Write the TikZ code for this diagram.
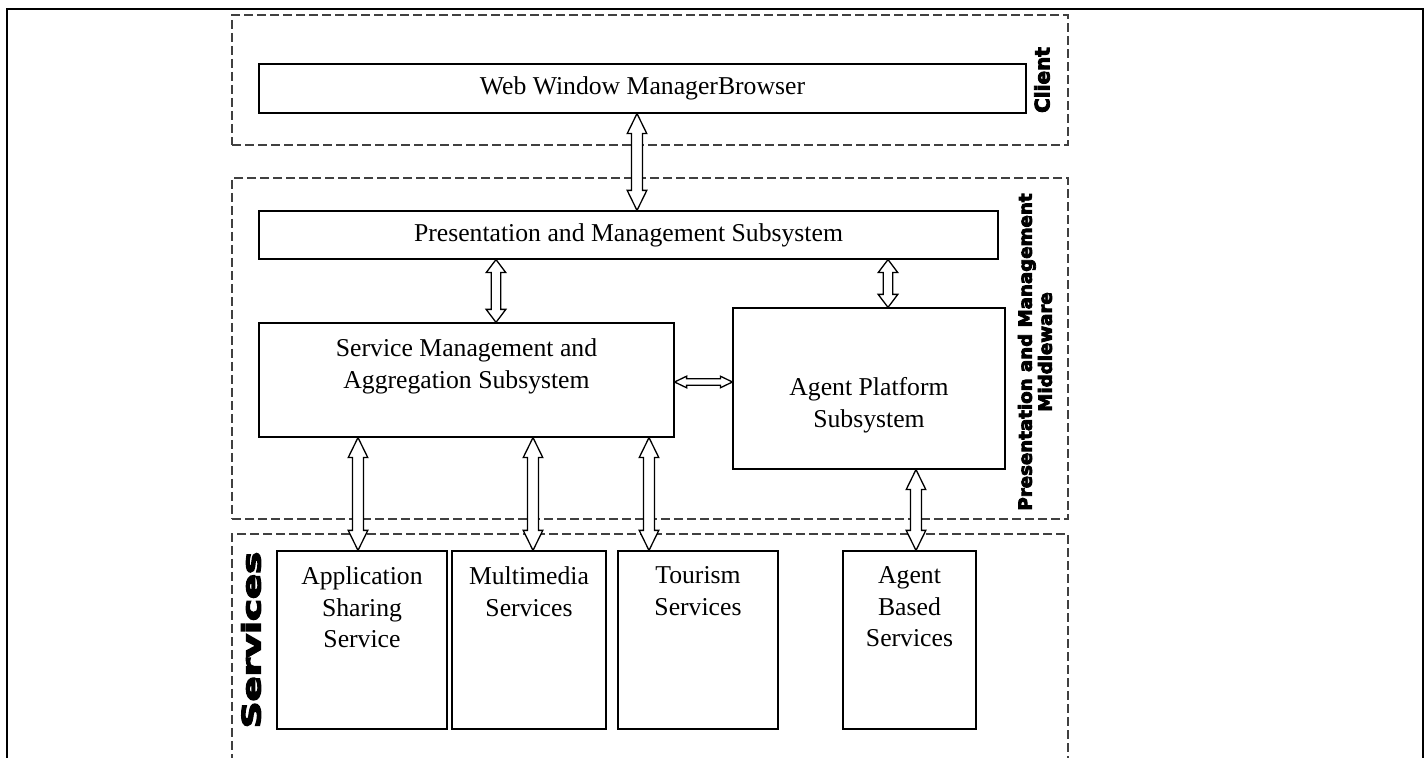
\documentclass[tikz,border=0pt]{standalone}
\usepackage{fontspec}
\setmainfont{Liberation Serif}
\newfontfamily\heavyfont{DejaVu Sans}[BoldFeatures={FakeBold=4.5}]
\usepackage{graphicx}
\usetikzlibrary{calc}
\usetikzlibrary{fit}

\newcommand{\hollowarrow}[5]{%
  \draw[arrowline] (#1)
    -- ($(#1)!#5!(#2)!#4!90:(#2)$) -- ($(#1)!#5!(#2)!#3!90:(#2)$)
    -- ($(#2)!#5!(#1)!#3!-90:(#1)$) -- ($(#2)!#5!(#1)!#4!-90:(#1)$)
    -- (#2)
    -- ($(#2)!#5!(#1)!#4!90:(#1)$) -- ($(#2)!#5!(#1)!#3!90:(#1)$)
    -- ($(#1)!#5!(#2)!#3!-90:(#2)$) -- ($(#1)!#5!(#2)!#4!-90:(#2)$)
    -- cycle;}

\begin{document}
\begin{tikzpicture}[x=0.5pt, y=-0.5pt,
    every node/.style={font=\fontsize{12.85}{15.75}\selectfont},
    box/.style={draw, line width=0.6pt, inner sep=0pt},
    zone/.style={draw=black!75, line width=0.6pt, dash pattern=on 4.5pt off 2pt, inner sep=0pt},
    svc/.style={box, label={[anchor=north, inner sep=0pt, yshift=-8pt, align=center]north:{#1}}},
    arrowline/.style={draw, fill=white, line width=0.65pt, line join=miter}]
    \clip (0,0) rectangle (1426,758);
    \draw[line width=1pt] (7,9) rectangle (1423,800);

    \node[zone, fit={(232,15) (1068,145)}] (client) {};
    \node[zone, fit={(232,178) (1068,519)}] (middle) {};
    \node[zone, fit={(232,534) (1068,800)}] (services) {};

    \node[box, fit={(259,64) (1026,113)}, label={center:Web Window ManagerBrowser}] (web) {};
    \node[box, fit={(259,211) (998,259)}, label={center:Presentation and Management Subsystem}] (pres) {};
    \node[box, fit={(259,323) (674,437)},
        label={[anchor=north, inner sep=0pt, yshift=-8pt, align=center]north:{Service Management and\\Aggregation Subsystem}}] (sma) {};
    \node[box, fit={(733,308) (1005,469)},
        label={[anchor=north, inner sep=0pt, yshift=-35pt, align=center]north:{Agent Platform\\Subsystem}}] (agp) {};

    \node[svc={Application\\Sharing\\Service}, fit={(277,551) (447,729)}] (app) {};
    \node[svc={Multimedia\\Services}, fit={(452,551) (606,729)}] (mm) {};
    \node[svc={Tourism\\Services}, fit={(618,551) (778,729)}] (tour) {};
    \node[svc={Agent\\Based\\Services}, fit={(843,551) (976,729)}] (abs) {};

    \node[rotate=90, font=\heavyfont\bfseries\fontsize{10}{11}\selectfont] (clientlbl) at (1042,80) {Client};
    \node[rotate=90, align=center, font=\heavyfont\bfseries\fontsize{9.1}{10}\selectfont] (middlelbl) at (1035,352) {Presentation and Management\\Middleware};
    \node[rotate=90, font=\heavyfont\bfseries\fontsize{12.8}{13}\selectfont] (serviceslbl) at (251,640) {\scalebox{1.45}[1]{Services}};

    \hollowarrow{web.south -| 637,0}{pres.north -| 637,0}{2.75pt}{4.9pt}{10pt}
    \hollowarrow{pres.south -| 496,0}{sma.north -| 496,0}{2.4pt}{4.9pt}{6.5pt}
    \hollowarrow{pres.south -| 888,0}{agp.north -| 888,0}{2.4pt}{4.9pt}{6.5pt}
    \hollowarrow{sma.east |- 0,382}{agp.west |- 0,382}{1.6pt}{2.9pt}{6pt}
    \hollowarrow{sma.south -| 358,0}{app.north -| 358,0}{2.75pt}{4.9pt}{10pt}
    \hollowarrow{sma.south -| 533,0}{mm.north -| 533,0}{2.75pt}{4.9pt}{10pt}
    \hollowarrow{sma.south -| 649,0}{tour.north -| 649,0}{2.75pt}{4.9pt}{10pt}
    \hollowarrow{agp.south -| 916,0}{abs.north -| 916,0}{2.75pt}{4.9pt}{10pt}
\end{tikzpicture}
\end{document}
